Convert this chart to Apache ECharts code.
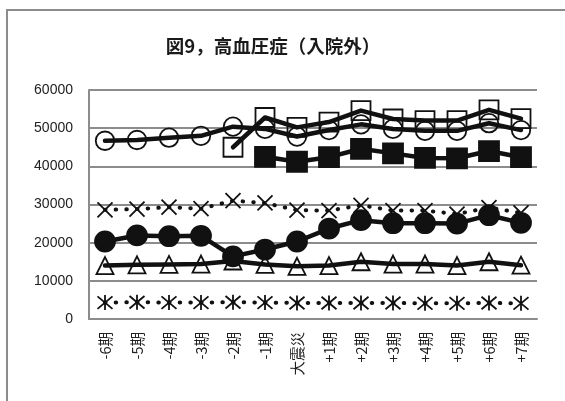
<!DOCTYPE html>
<html>
<head>
<meta charset="utf-8">
<script src="https://cdn.jsdelivr.net/npm/echarts@6/dist/echarts.min.js"></script>
<style>
  html, body { margin: 0; padding: 0; background: #fff; overflow: hidden; }
  #wrap { position: relative; width: 565px; height: 401px; }
  #chart { position: absolute; left: 0; top: 0; width: 565px; height: 401px; }
  /* outer chart-area frame; its right and bottom edges run past the view */
  #frame { position: absolute; left: 6px; top: 9px; width: 700px; height: 500px;
           border-left: 2px solid #8c8c8c; border-top: 2px solid #8c8c8c;
           pointer-events: none; }
</style>
</head>
<body>
<div id="wrap">
  <div id="chart"></div>
  <div id="frame"></div>
</div>
<script>
// Periods around the earthquake (x axis)
const categories = ['-6期', '-5期', '-4期', '-3期', '-2期', '-1期', '大震災',
  '+1期', '+2期', '+3期', '+4期', '+5期', '+6期', '+7期'];

// Y axis range and step
const yMin = 0;
const yMax = 60000;
const yStep = 10000;

// Series values ('-' = no data for that period)
const openCircle   = [46700, 46900, 47500, 48000, 50400, 49800, 47800, 49500, 51000, 49800, 49300, 49300, 51300, 49500];
const openSquare   = ['-', '-', '-', '-', 45000, 52800, 50200, 51600, 54600, 52400, 52000, 52000, 54800, 52500];
const filledSquare = ['-', '-', '-', '-', '-', 42500, 41200, 42400, 44600, 43400, 42200, 42100, 44000, 42400];
const crossDotted  = [28600, 28800, 29300, 28900, 31000, 30400, 28500, 28400, 29800, 28400, 28400, 27500, 29200, 27800];
const openTriangle = [14000, 14200, 14300, 14400, 15200, 14300, 13800, 14000, 15000, 14400, 14400, 14000, 15000, 14100];
const filledCircle = [20300, 21900, 21700, 21800, 16400, 18200, 20300, 23700, 25900, 25100, 25100, 25000, 27200, 25200];
const starDotted   = [4300, 4400, 4300, 4300, 4400, 4300, 4200, 4200, 4200, 4200, 4100, 4100, 4200, 4100];

const INK = '#111';
const GRID = '#8c8c8c';

const X_PATH = 'path://M0,0L10,10M10,0L0,10';
const STAR_PATH = 'path://M0,0L10,10M10,0L0,10M5,-1L5,11';

function solidSeries(name, data, symbol, size, fill) {
  return {
    name, type: 'line', data, symbol, symbolSize: size, showAllSymbol: true,
    connectNulls: false,
    lineStyle: { color: INK, width: 4.5, cap: 'round', join: 'round' },
    itemStyle: { color: fill, borderColor: INK, borderWidth: 1.8 },
    emphasis: { disabled: true }
  };
}

function dottedSeries(name, data, symbol, size) {
  return {
    name, type: 'line', data, symbol, symbolSize: size, showAllSymbol: true,
    lineStyle: { color: INK, width: 4, type: [0.5, 10.17], cap: 'round' },
    itemStyle: { color: 'transparent', borderColor: INK, borderWidth: 1.8 },
    emphasis: { disabled: true }
  };
}

const chart = echarts.init(document.getElementById('chart'), null, { renderer: 'canvas' });
chart.setOption({
  animation: false,
  backgroundColor: '#fff',
  title: {
    text: '図9，高血圧症（入院外）',
    left: 268, top: 32, textAlign: 'center',
    textStyle: { fontFamily: 'Noto Sans CJK JP', fontWeight: 'bold', fontSize: 18.5, color: '#1a1a1a' }
  },
  grid: { left: 89, right: 28, top: 90, bottom: 82, containLabel: false },
  xAxis: {
    type: 'category', data: categories, boundaryGap: true,
    axisLine: { show: true, lineStyle: { color: GRID, width: 2 } },
    axisTick: { show: false },
    axisLabel: {
      rotate: 90, margin: 13, interval: 0, color: '#222',
      fontFamily: 'Noto Sans CJK JP', fontSize: 14.5
    },
    splitLine: { show: false }
  },
  yAxis: {
    type: 'value', min: yMin, max: yMax, interval: yStep,
    axisLine: { show: true, lineStyle: { color: GRID, width: 2 } },
    axisTick: { show: false },
    axisLabel: {
      margin: 16, color: '#222', fontFamily: 'Liberation Sans', fontSize: 14,
      formatter: v => String(v)
    },
    splitLine: { show: true, lineStyle: { color: GRID, width: 2 } }
  },
  series: [
    solidSeries('openSquare', openSquare, 'rect', 19, 'transparent'),
    solidSeries('openCircle', openCircle, 'circle', 18.5, 'transparent'),
    solidSeries('filledSquare', filledSquare, 'rect', 20, INK),
    dottedSeries('crossDotted', crossDotted, X_PATH, 15),
    solidSeries('openTriangle', openTriangle, 'triangle', 17, 'transparent'),
    solidSeries('filledCircle', filledCircle, 'circle', 20, INK),
    dottedSeries('starDotted', starDotted, STAR_PATH, 15)
  ]
});
</script>
</body>
</html>
